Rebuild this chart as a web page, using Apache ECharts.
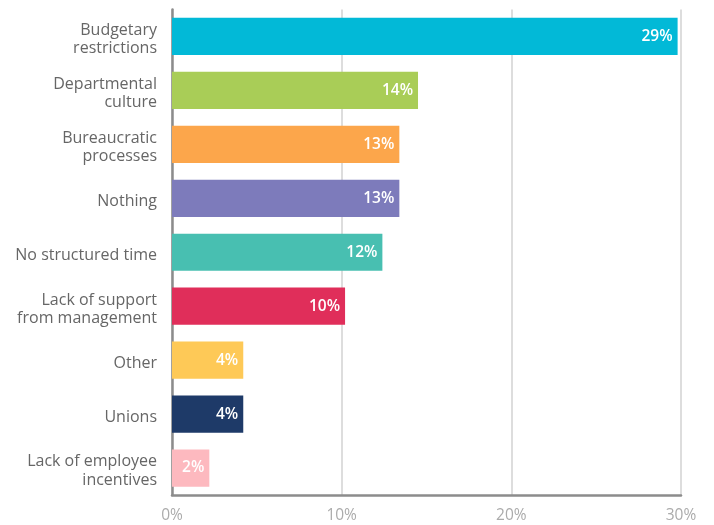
<!DOCTYPE html>
<html>
<head>
<meta charset="utf-8">
<script src="https://cdn.jsdelivr.net/npm/echarts@6/dist/echarts.min.js"></script>
<style>
html,body{margin:0;padding:0;background:#fff;}
#chart{width:714px;height:525px;}
</style>
</head>
<body>
<div id="chart"></div>
<script>
var categories = [
  "Budgetary\nrestrictions",
  "Departmental\nculture",
  "Bureaucratic\nprocesses",
  "Nothing",
  "No structured time",
  "Lack of support\nfrom management",
  "Other",
  "Unions",
  "Lack of employee\nincentives"
];
var values = [29.8, 14.5, 13.4, 13.4, 12.4, 10.2, 4.2, 4.2, 2.2];
var valueLabels = ["29%", "14%", "13%", "13%", "12%", "10%", "4%", "4%", "2%"];
var colors = ["#02b9d7", "#a9cd57", "#fca64b", "#7d7bbb", "#48bfb1", "#e02e5a", "#fec957", "#1e3a68", "#fdb9bf"];
var tickLabels = ["0%", "10%", "20%", "30%"];

var chart = echarts.init(document.getElementById('chart'), null, {renderer: 'canvas'});
var FONT = 'Open Sans';
chart.setOption({
  animation: false,
  backgroundColor: '#ffffff',
  grid: {left: 172, right: 33, top: 9.5, bottom: 30, containLabel: false},
  xAxis: {
    type: 'value',
    min: 0, max: 30, interval: 10,
    axisLine: {show: true, lineStyle: {color: '#8c8c8c', width: 2.5}},
    axisTick: {show: false},
    splitLine: {show: true, lineStyle: {color: '#d2d2d2', width: 1.5}},
    axisLabel: {
      color: '#ababab', fontFamily: FONT, fontSize: 15.5, margin: 13,
      formatter: function (v) { return tickLabels[Math.round(v / 10)] || ''; }
    }
  },
  yAxis: {
    type: 'category',
    inverse: true,
    data: categories,
    axisLine: {show: true, lineStyle: {color: '#8c8c8c', width: 2.5}},
    axisTick: {show: false},
    axisLabel: {
      color: '#666666', fontFamily: FONT, fontSize: 16, lineHeight: 18.5, margin: 15, align: 'right',
      formatter: function (v) {
        return v.split('\n').map(function (s) { return '{a|' + s + '}'; }).join('\n');
      },
      rich: {
        a: {color: '#666666', fontFamily: FONT, fontSize: 16, lineHeight: 18.5, align: 'right', padding: [6, 0, 0, 0]}
      }
    }
  },
  series: [{
    type: 'bar',
    barCategoryGap: '31%',
    data: values.map(function (v, i) {
      return {value: v, itemStyle: {color: colors[i]}};
    }),
    label: {
      show: true,
      position: 'insideRight',
      distance: 5,
      color: '#ffffff',
      fontFamily: FONT,
      fontWeight: 600,
      fontSize: 15.5,
      formatter: function (p) { return valueLabels[p.dataIndex]; }
    }
  }]
});
</script>
</body>
</html>
